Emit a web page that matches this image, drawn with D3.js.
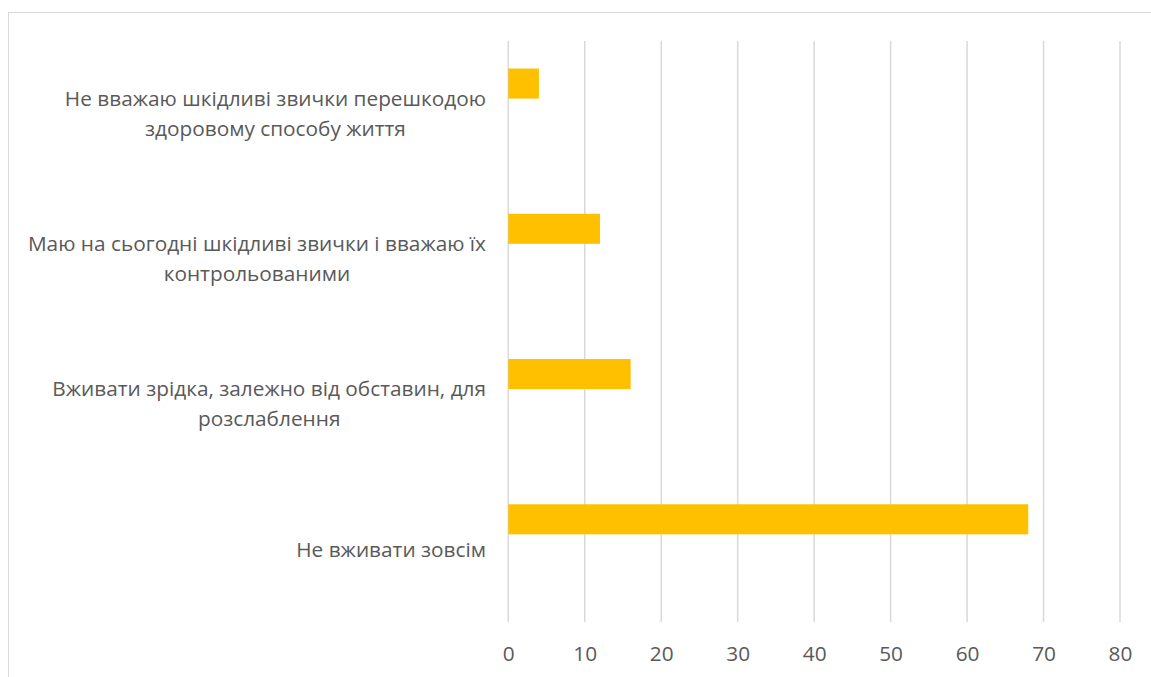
<!DOCTYPE html>
<html>
<head>
<meta charset="utf-8">
<script src="https://cdn.jsdelivr.net/npm/d3@7"></script>
<style>
  html, body { margin: 0; padding: 0; background: #fff; }
  svg { display: block; }
</style>
</head>
<body>
<svg id="chart" width="1151" height="677"></svg>
<script>
// ---- data ----
const categories = [
  ["Не вважаю шкідливі звички перешкодою", "здоровому способу життя"],
  ["Маю на сьогодні шкідливі звички і вважаю їх", "контрольованими"],
  ["Вживати зрідка, залежно від обставин, для", "розслаблення"],
  ["Не вживати зовсім"]
];
const values = [4, 12, 16, 68];
const xTicks = [0, 10, 20, 30, 40, 50, 60, 70, 80];
const seriesSlots = [0, 1, 2]; // Excel cluster with 3 series, only first drawn

// ---- layout ----
const svg = d3.select("#chart");
const plot = { left: 508.3, right: 1120, top: 41, bottom: 622 };
const font = "'Open Sans', 'Noto Sans', sans-serif";
const fontSize = "20.8px";
const textColor = "#595959";
const gridColor = "#d9d9d9";

// chart frame
svg.append("rect")
  .attr("x", 8.5).attr("y", 12.5)
  .attr("width", 1300).attr("height", 800)
  .attr("fill", "none").attr("stroke", gridColor).attr("stroke-width", 1);

const x = d3.scaleLinear().domain([0, 80]).range([plot.left, plot.right]);
const y = d3.scaleBand()
  .domain(d3.range(categories.length))
  .range([plot.top, plot.bottom])
  .paddingInner(0.379).paddingOuter(0.1895);
const ySub = d3.scaleBand().domain(seriesSlots).range([0, y.bandwidth()]);

// gridlines
svg.append("g").selectAll("line").data(xTicks).join("line")
  .attr("x1", d => x(d)).attr("x2", d => x(d))
  .attr("y1", plot.top).attr("y2", plot.bottom)
  .attr("stroke", gridColor).attr("stroke-width", 1.5);

// bars
svg.append("g").selectAll("rect").data(values).join("rect")
  .attr("x", x(0))
  .attr("y", (d, i) => y(i) + ySub(0))
  .attr("width", d => x(d) - x(0))
  .attr("height", ySub.bandwidth())
  .attr("fill", "#FFC000");

// x axis tick labels
const xAxis = d3.axisBottom(x).tickValues(xTicks).tickSize(0).tickPadding(0);
const gx = svg.append("g")
  .attr("transform", `translate(0,${plot.bottom + 32})`)
  .call(xAxis);
gx.select(".domain").remove();
gx.selectAll("text")
  .attr("dy", "0.35em").attr("y", 0)
  .attr("fill", textColor)
  .style("font-family", font).style("font-size", fontSize);

// category labels (lines centered within block, block right-aligned)
const labelRight = 486;
const lineH = 30;
const cat = svg.append("g");
categories.forEach((lines, i) => {
  const centerY = y(i) - (y.step() * y.paddingInner()) / 2 + y.step() / 2;
  const g = cat.append("g");
  const texts = g.selectAll("text").data(lines).join("text")
    .attr("y", (d, k) => centerY + (k - (lines.length - 1) / 2) * lineH)
    .attr("dy", "0.35em")
    .attr("fill", textColor)
    .style("font-family", font).style("font-size", fontSize)
    .text(d => d);
  let maxW = 0;
  texts.each(function () { maxW = Math.max(maxW, this.getComputedTextLength()); });
  texts.attr("x", labelRight - maxW / 2).attr("text-anchor", "middle");
});
</script>
</body>
</html>
